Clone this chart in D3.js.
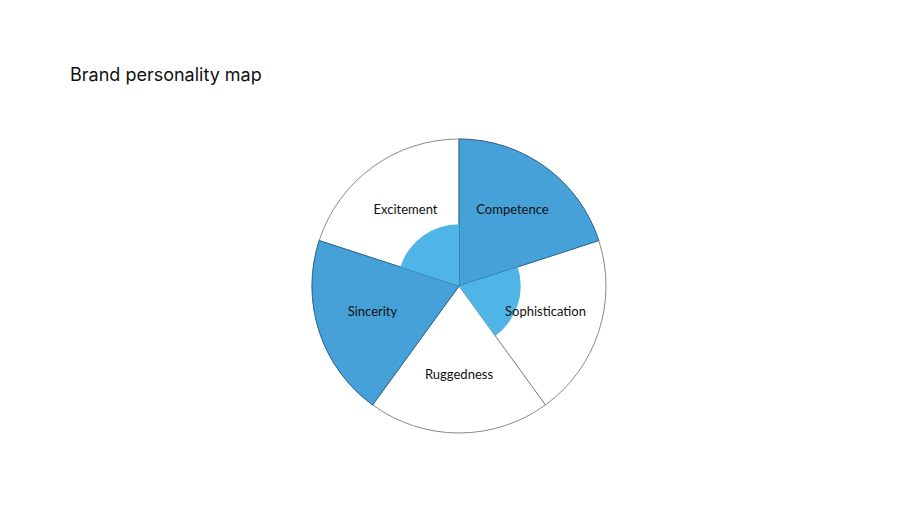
<!DOCTYPE html>
<html>
<head>
<meta charset="utf-8">
<script src="https://cdn.jsdelivr.net/npm/d3@7"></script>
<style>
html,body{margin:0;padding:0;background:#fff;}
svg{display:block;}
</style>
</head>
<body>
<svg id="chart" width="920" height="518"></svg>
<script>
const categories = ["Competence", "Sophistication", "Ruggedness", "Sincerity", "Excitement"];
const values = [100, 42, 0, 100, 42];
const maxValue = 100;
const title = "Brand personality map";

const svg = d3.select("#chart");
const cx = 459, cy = 286, R = 147;

svg.append("text")
  .attr("x", 70).attr("y", 81)
  .attr("font-family", "Inter, 'Noto Sans', sans-serif")
  .attr("font-size", 18)
  .attr("fill", "#111")
  .text(title);

const g = svg.append("g").attr("transform", `translate(${cx},${cy})`);

const angle = d3.scaleBand().domain(categories).range([0, 2 * Math.PI]).padding(0);
const radius = d3.scaleLinear().domain([0, maxValue]).range([0, R]);

const arc = d3.arc()
  .innerRadius(0)
  .startAngle(d => angle(d.cat))
  .endAngle(d => angle(d.cat) + angle.bandwidth());

const data = categories.map((c, i) => ({cat: c, value: values[i]}));

// background slices
g.selectAll("path.bg").data(data).enter().append("path")
  .attr("class", "bg")
  .attr("d", d => arc.outerRadius(R)(d))
  .attr("fill", "#fff")
  .attr("stroke", "#8a8a8a")
  .attr("stroke-width", 1);

// value slices
g.selectAll("path.val").data(data.filter(d => d.value > 0)).enter().append("path")
  .attr("class", "val")
  .attr("d", d => arc.outerRadius(radius(d.value))(d))
  .attr("fill", d => d.value >= maxValue ? "#45a1d8" : "#4fb5e6")
  .attr("stroke", d => d.value >= maxValue ? "#1e5e88" : "none")
  .attr("stroke-width", 0.8);

// labels
const labelR = 91;
g.selectAll("text.lbl").data(data).enter().append("text")
  .attr("class", "lbl")
  .attr("x", d => labelR * Math.sin(angle(d.cat) + angle.bandwidth() / 2))
  .attr("y", d => -labelR * Math.cos(angle(d.cat) + angle.bandwidth() / 2) - 3)
  .attr("dy", "0.35em")
  .attr("text-anchor", "middle")
  .attr("font-family", "Lato, 'Noto Sans', sans-serif")
  .attr("font-size", 13)
  .attr("fill", "#111")
  .text(d => d.cat);
</script>
</body>
</html>
